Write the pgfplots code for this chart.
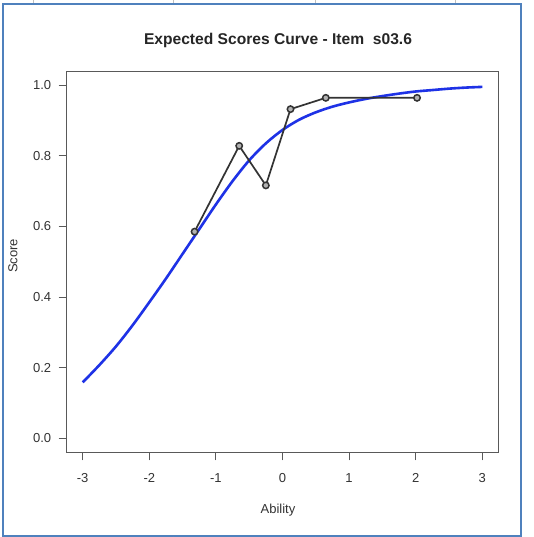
\documentclass[border=0pt]{standalone}
\usepackage{fontspec}
\setmainfont{Liberation Sans}
\usepackage{pgfplots}
\pgfplotsset{compat=1.18}
\definecolor{framebl}{RGB}{79,129,189}
\definecolor{curveblue}{RGB}{30,50,230}
\begin{document}
\begin{tikzpicture}[x=1pt,y=1pt]
\path[use as bounding box, fill=white] (0,0) rectangle (534,-537);
\begin{axis}[
  at={(66.7pt,-452.3pt)}, anchor=south west,
  scale only axis, width=431.6pt, height=381.3pt,
  xmin=-3.24, xmax=3.24, ymin=-0.04, ymax=1.04,
  axis line style={black!65, line width=0.9pt},
  tick style={black!65, line width=0.9pt},
  major tick length=8pt, tick align=outside, tick pos=left,
  xtick={-3,-2,-1,0,1,2,3}, xticklabels={-3,-2,-1,0,1,2,3},
  ytick={0,0.2,0.4,0.6,0.8,1}, yticklabels={0.0,0.2,0.4,0.6,0.8,1.0},
  ticklabel style={font=\fontsize{13}{15}\selectfont, text=black!80},
  xticklabel style={yshift=-10pt},
  yticklabel style={xshift=-4pt},
  /pgf/number format/assume math mode=true,
  clip=false,
]
\addplot[curveblue, line width=2.6pt, smooth] coordinates {
(-3.00,0.158) (-2.75,0.207) (-2.50,0.260) (-2.25,0.320) (-2.00,0.385)
(-1.75,0.452) (-1.50,0.522) (-1.25,0.592) (-1.00,0.662) (-0.75,0.728)
(-0.50,0.787) (-0.25,0.835) (0.00,0.873) (0.25,0.902) (0.50,0.923)
(0.75,0.939) (1.00,0.951) (1.25,0.961) (1.50,0.969) (1.75,0.976)
(2.00,0.982) (2.25,0.986) (2.50,0.990) (2.75,0.993) (3.00,0.995)
};
\addplot[black!80, line width=1.7pt, mark=*, mark size=3.2pt, mark options={line width=1.5pt, draw=black!80, fill=black!30}] coordinates {
(-1.32,0.585) (-0.65,0.828) (-0.25,0.716) (0.12,0.932) (0.65,0.964) (2.02,0.964)
};
\end{axis}
\node[font=\bfseries\fontsize{15.6}{18}\selectfont, text=black!85] at (278,-40) {Expected Scores Curve - Item\ \ s03.6};
\node[font=\fontsize{13}{15}\selectfont, text=black!80] at (278,-510) {Ability};
\node[font=\fontsize{13}{15}\selectfont, text=black!80, rotate=90] at (13,-256) {Score};
\draw[framebl, line width=2pt] (2.5,-4.5) rectangle (521,-535.5);
\foreach \xx in {33,173,315,455} {\draw[black!25, line width=0.6pt] (\xx,0) -- (\xx,-3.5);}
\foreach \xx in {33,173,315} {\draw[black!25, line width=0.6pt] (\xx,-536.5) -- (\xx,-537);}
\end{tikzpicture}
\end{document}
